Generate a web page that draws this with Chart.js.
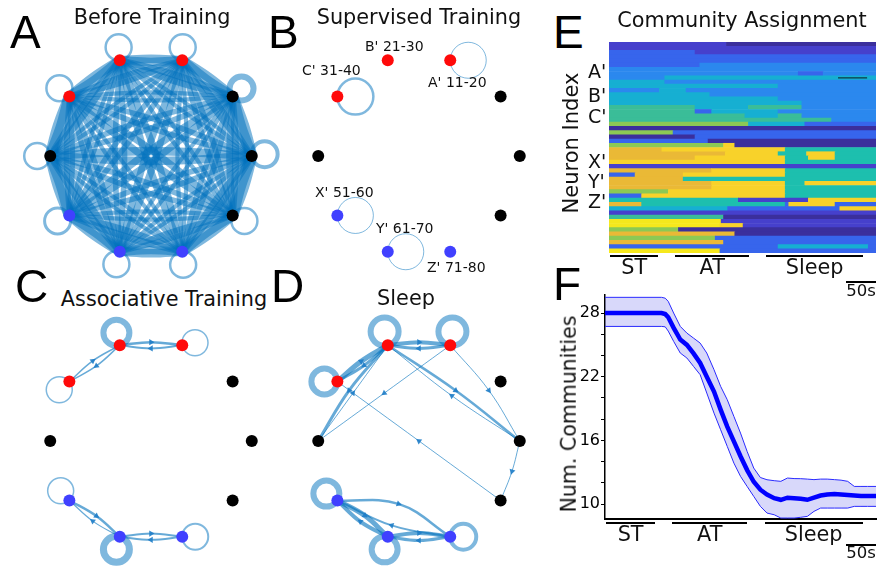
<!DOCTYPE html>
<html>
<head>
<meta charset="utf-8">
<script src="https://cdn.jsdelivr.net/npm/chart.js@4.4.1/dist/chart.umd.min.js"></script>
<style>
  body { margin: 0; background: #fff; }
  #fig { position: relative; width: 881px; height: 571px; overflow: hidden;
         font-family: "DejaVu Sans", sans-serif; color: #111; }
  #fig canvas { position: absolute; }
  .t { position: absolute; white-space: nowrap; line-height: 1; }
  .letter { font-family: "Liberation Sans", Arial, sans-serif; font-size: 46px; color: #000; }
  .title { font-size: 20.8px; transform: translateX(-50%); }
  .tag { font-size: 14px; }
  .row { font-size: 19px; }
  .ylab { transform: translate(-50%, -50%) rotate(-90deg); }
  .phase { font-size: 20.8px; transform: translateX(-50%); }
  .sb { font-size: 16.5px; transform: translateX(-50%); }
  .bar { position: absolute; height: 2px; background: #000; }
</style>
</head>
<body>
<div id="fig">
  <canvas id="netA" width="260" height="260" style="left:21px;top:26px"></canvas>
  <canvas id="netB" width="260" height="260" style="left:289px;top:26px"></canvas>
  <canvas id="netC" width="260" height="260" style="left:21px;top:311px"></canvas>
  <canvas id="netD" width="260" height="260" style="left:289px;top:311px"></canvas>
  <canvas id="heat" width="267" height="211" style="left:609px;top:42px"></canvas>
  <canvas id="comm" width="321" height="236" style="left:560px;top:289px"></canvas>

  <div class="t letter" style="left:10px;top:9px">A</div>
  <div class="t letter" style="left:268px;top:9px">B</div>
  <div class="t letter" style="left:15px;top:263px">C</div>
  <div class="t letter" style="left:271px;top:263px">D</div>
  <div class="t letter" style="left:553px;top:9px">E</div>
  <div class="t letter" style="left:553px;top:261px">F</div>

  <div class="t title" style="left:152px;top:7px">Before Training</div>
  <div class="t title" style="left:419px;top:7px">Supervised Training</div>
  <div class="t title" style="left:742px;top:10px">Community Assignment</div>
  <div class="t title" style="left:164px;top:289px">Associative Training</div>
  <div class="t title" style="left:406px;top:288px">Sleep</div>

  <div class="t tag" style="left:365px;top:39px">B' 21-30</div>
  <div class="t tag" style="left:428px;top:75px">A' 11-20</div>
  <div class="t tag" style="left:302px;top:63px">C' 31-40</div>
  <div class="t tag" style="left:315px;top:185px">X' 51-60</div>
  <div class="t tag" style="left:376px;top:221px">Y' 61-70</div>
  <div class="t tag" style="left:427px;top:260px">Z' 71-80</div>

  <div class="t row" style="left:588px;top:62px">A'</div>
  <div class="t row" style="left:588px;top:86px">B'</div>
  <div class="t row" style="left:588px;top:107px">C'</div>
  <div class="t row" style="left:588px;top:152px">X'</div>
  <div class="t row" style="left:588px;top:172px">Y'</div>
  <div class="t row" style="left:588px;top:192px">Z'</div>

  <div class="t ylab" style="left:571px;top:143px;font-size:21px">Neuron Index</div>
  <div class="t ylab" style="left:569px;top:414px;font-size:20.5px">Num. Communities</div>
</div>

<script>
// ---- network panels (A-D) ----
const nodeX = [1.00, 0.81, 0.31, -0.31, -0.81, -1.00, -0.81, -0.31, 0.31, 0.81];
const nodeY = [0.00, 0.59, 0.95, 0.95, 0.59, 0.00, -0.59, -0.95, -0.95, -0.59];
const nodeKind = ["k", "k", "r", "r", "r", "k", "b", "b", "b", "k"];

// every pair in the untrained net: [from, to, width]
const edgesA = [
    [0, 1, 8], [0, 2, 4], [0, 3, 3], [0, 4, 4], [0, 5, 6], [0, 6, 4], [0, 7, 3], [0, 8, 5], [0, 9, 8],
    [1, 2, 7], [1, 3, 5], [1, 4, 3], [1, 5, 4], [1, 6, 5], [1, 7, 3], [1, 8, 4], [1, 9, 5],
    [2, 3, 6], [2, 4, 4], [2, 5, 3], [2, 6, 4], [2, 7, 5], [2, 8, 3], [2, 9, 4],
    [3, 4, 7], [3, 5, 5], [3, 6, 3], [3, 7, 4], [3, 8, 5], [3, 9, 3],
    [4, 5, 8], [4, 6, 4], [4, 7, 4], [4, 8, 3], [4, 9, 5],
    [5, 6, 8], [5, 7, 5], [5, 8, 3], [5, 9, 4],
    [6, 7, 7], [6, 8, 5], [6, 9, 3],
    [7, 8, 6], [7, 9, 4],
    [8, 9, 7],
];
// directed edges: [from, to, width, bend]
const edgesC = [
    [3, 2, 2.5, 0.05], [2, 3, 2, 0.05], [4, 3, 1.5, 0.05], [3, 4, 1.5, 0.05],
    [6, 7, 2.5, 0.05], [7, 6, 1.2, 0.05], [7, 8, 2, 0.05], [8, 7, 2, 0.05],
];
const edgesD = [
    [3, 2, 4, 0.05], [2, 3, 3, 0.05], [4, 3, 5, 0.04], [3, 4, 3, 0.04],
    [3, 5, 3, -0.04], [5, 3, 1, 0], [2, 5, 1, 0],
    [3, 0, 2.5, 0.02], [0, 3, 1, 0.02], [2, 0, 1, 0.04],
    [9, 4, 1, 0], [0, 9, 1, 0.03],
    [6, 7, 5, 0.06], [7, 6, 4, 0.06], [6, 8, 2.5, 0.13], [8, 6, 2, 0.06],
    [7, 8, 4, 0.06], [8, 7, 3, 0.06],
];
// self loops: [node, direction (deg), radius, width]
const loopsA = [
    [0, 8, 13, 4], [1, 42, 12, 6], [2, 88, 13, 2.5], [3, 95, 13, 2.5], [4, 140, 13, 2.5],
    [5, 180, 13, 2.5], [6, 205, 13, 3], [7, 255, 13, 2.5], [8, 274, 13, 2.5], [9, 335, 13, 2.5],
];
const loopsB = [[2, 0, 18, 1], [4, 0, 18, 2.5], [6, 0, 18, 1], [7, 0, 18, 1]];
const loopsC = [[3, 105, 13, 6], [2, 11, 13, 1.5], [4, 219, 13, 1.5], [6, 132, 13, 1.5], [7, 255, 13, 7], [8, 0, 13, 2]];
const loopsD = [[3, 103, 14, 6], [2, 81, 14, 6], [4, 180, 13, 6], [6, 148, 13, 6], [7, 256, 13, 6], [8, 0, 13, 4]];

// ---- community assignment heat map (E), 50 bands of 2 neurons ----
// each band: "<colour><start s>" segments
const heatRows = [
    "p0 d198", "p0", "b0 p145", "b0", "b0", "b0 a153", "a0", "a0 b319 a361", "a0 c94", "c0 a94",
    "c0 a285", "a0 c85 a130", "c0 a170", "c0 a285", "c0 a325", "g0 c145 g235 a325", "g0 b145 c173 a285",
    "g0 c229 g285 a325", "g0 a375", "l0 c235 b330", "d0", "l0 b108", "d0 b145", "b0 d167", "l0 y193 d212",
    "o0 y89 t297", "o0 y196 t285 y333 t381", "o0 y145 t297 y336 t381", "y0 t297", "p0", "o0 y173 t297",
    "b0 o44 y125 t297", "o0 t125", "o0 y173 t297 y330", "o0 y173 t297", "l0 y100 t297", "b0 y55 t297",
    "t0 p218 y336", "o0 t55 b297 y303 b381", "c0 b200 y389", "p0", "g0 d193", "Y0 p189", "Y0 y187 p226",
    "l0 d117", "o0 d212", "l0 b179", "o0 b193", "b0 c285 b437", "Y0 b187",
];
const heatMarker = [9, 386, 435];
const heatColors = {
    d: "#3b2f9c", p: "#4640cc", b: "#3765ec", a: "#2b88ee", c: "#16afd2", t: "#1dbfae",
    g: "#3abd98", l: "#8cc954", o: "#eab936", y: "#f8d22a", Y: "#f6e81c",
};

// ---- number of communities (F) ----
const tF = [0, 94, 100, 105, 114, 125, 136, 147, 158, 169, 181, 192, 203, 214, 225, 236, 247, 258, 269, 281,
    292, 303, 314, 325, 336, 347, 358, 369, 381, 392, 403, 414, 425, 436, 450];
const meanF = [28, 28, 27.9, 27.6, 26.6, 25.5, 25.0, 24.2, 23.3, 22.0, 20.6, 18.9, 17.3, 15.9, 14.5, 13.2, 12.1, 11.35, 10.9, 10.55,
    10.4, 10.6, 10.55, 10.5, 10.4, 10.6, 10.8, 10.9, 10.95, 10.9, 10.85, 10.8, 10.75, 10.75, 10.75];
const upperF = [29.48, 29.48, 29.4, 29.1, 28.0, 26.74, 26.11, 25.64, 25.17, 24.23, 22.66, 21.09, 19.83, 18.26, 16.69, 14.96, 13.39, 12.5, 12.29, 12.2,
    12.14, 12.45, 12.4, 12.39, 12.35, 12.3, 12.35, 12.35, 12.3, 12.25, 12.14, 11.66, 11.66, 11.66, 11.66];
const lowerF = [26.74, 26.74, 26.7, 26.3, 25.33, 24.23, 23.76, 22.97, 22.19, 20.46, 18.57, 17.0, 15.43, 13.86, 12.61, 11.66, 10.72, 9.78, 9.15, 8.99,
    8.68, 8.68, 8.68, 8.75, 8.84, 9.31, 9.62, 9.62, 9.62, 9.62, 9.62, 9.78, 9.78, 9.78, 9.78];
const yTicksF = [10, 16, 22, 28];

const phaseNames = ["ST", "AT", "Sleep"];
const phaseStart = [2, 112, 265];
const phaseEnd = [83, 236, 428];
const scaleBar = [400, 450];

// ---- drawing ----
const nodeColors = { r: "#ff0a0a", b: "#4040ff", k: "#000000" };
const EDGE = "rgba(0,114,189,0.6)";
const EDGE_A = "rgba(0,114,189,0.5)";
const LOOP = "rgba(0,114,189,0.5)";
const ARROW = "rgba(30,125,200,0.9)";
const PX = 260 / 2.58;
const fig = document.getElementById("fig");

const netOptions = {
    responsive: false,
    animation: false,
    events: [],
    layout: { padding: 0, autoPadding: false },
    plugins: { legend: { display: false }, tooltip: { enabled: false } },
    scales: {
        x: { type: "linear", min: -1.29, max: 1.29, display: false },
        y: { type: "linear", min: -1.29, max: 1.29, display: false },
    },
};

function drawNetwork(id, loops, edges, edgeColor, arrows) {
    const pts = nodeX.map((x, i) => ({ x: x, y: nodeY[i] }));
    const datasets = [{
        data: pts,
        pointRadius: 6,
        pointBackgroundColor: nodeKind.map((k) => nodeColors[k]),
        pointBorderWidth: 0,
        order: 0,
        clip: false,
    }];
    const loopPts = loops.map((l) => ({
        x: nodeX[l[0]] + (l[2] / PX) * Math.cos((l[1] * Math.PI) / 180),
        y: nodeY[l[0]] + (l[2] / PX) * Math.sin((l[1] * Math.PI) / 180),
    }));
    datasets.push({
        data: loopPts,
        pointRadius: loops.map((l) => l[2]),
        pointBorderWidth: loops.map((l) => l[3]),
        pointBackgroundColor: "rgba(0,0,0,0)",
        pointBorderColor: LOOP,
        order: 1,
        clip: false,
    });
    const heads = [];
    edges.forEach((e) => {
        const a = pts[e[0]];
        const b = pts[e[1]];
        const dx = b.x - a.x;
        const dy = b.y - a.y;
        const mid = { x: (a.x + b.x) / 2 - dy * e[3], y: (a.y + b.y) / 2 + dx * e[3] };
        datasets.push({
            data: [a, mid, b],
            showLine: true,
            borderColor: edgeColor,
            borderWidth: e[2],
            tension: 0.4,
            pointRadius: 0,
            order: 2,
            clip: false,
        });
        heads.push({ x: mid.x, y: mid.y, rot: (Math.atan2(dx, dy) * 180) / Math.PI });
    });
    if (arrows) {
        datasets.push({
            data: heads,
            pointStyle: "triangle",
            pointRadius: 3.5,
            pointRotation: heads.map((h) => h.rot),
            pointBackgroundColor: ARROW,
            pointBorderWidth: 0,
            order: 1,
            clip: false,
        });
    }
    return new Chart(document.getElementById(id), {
        type: "scatter",
        data: { datasets: datasets },
        options: netOptions,
    });
}

// A draws every pair both ways, bent apart
const pairsA = [];
edgesA.forEach((e) => {
    pairsA.push([e[0], e[1], e[2] * 1.4, 0.025]);
    pairsA.push([e[1], e[0], e[2] * 1.4, 0.025]);
});
drawNetwork("netA", loopsA, pairsA, EDGE_A, false);
drawNetwork("netB", loopsB, [], EDGE, false);
drawNetwork("netC", loopsC, edgesC, EDGE, true);
drawNetwork("netD", loopsD, edgesD, EDGE, true);

// heat map as floating horizontal bars
const rowLabels = heatRows.map((r, i) => "n" + (i + 1));
const segs = [];
const segColors = [];
heatRows.forEach((row, i) => {
    const parts = row.split(" ").map((s) => [s[0], parseFloat(s.slice(1))]);
    parts.forEach((p, j) => {
        const end = j + 1 < parts.length ? parts[j + 1][1] : 450;
        segs.push({ x: [p[1], end], y: rowLabels[i] });
        segColors.push(heatColors[p[0]]);
    });
});
const heatChart = new Chart(document.getElementById("heat"), {
    type: "bar",
    data: {
        labels: rowLabels,
        datasets: [
            {
                data: [{ x: [heatMarker[1], heatMarker[2]], y: rowLabels[heatMarker[0] - 1] }],
                backgroundColor: "#0f3a45",
                barPercentage: 0.3,
                categoryPercentage: 1,
                grouped: false,
                order: 0,
            },
            {
                data: segs,
                backgroundColor: segColors,
                barPercentage: 1,
                categoryPercentage: 1,
                grouped: false,
                borderWidth: 0,
                order: 1,
            },
        ],
    },
    options: {
        indexAxis: "y",
        responsive: false,
        animation: false,
        events: [],
        layout: { padding: 0, autoPadding: false },
        plugins: { legend: { display: false }, tooltip: { enabled: false } },
        scales: {
            x: { type: "linear", min: 0, max: 450, display: false },
            y: { type: "category", display: false },
        },
    },
});

// number of communities
const commChart = new Chart(document.getElementById("comm"), {
    type: "line",
    data: {
        datasets: [
            {
                data: tF.map((t, i) => ({ x: t, y: meanF[i] })),
                borderColor: "#0000ff",
                borderWidth: 4.5,
                pointRadius: 0,
                fill: false,
                order: 0,
            },
            {
                data: tF.map((t, i) => ({ x: t, y: upperF[i] })),
                borderColor: "#2a2aff",
                borderWidth: 1,
                pointRadius: 0,
                fill: "+1",
                backgroundColor: "rgba(40,40,230,0.18)",
                order: 1,
            },
            {
                data: tF.map((t, i) => ({ x: t, y: lowerF[i] })),
                borderColor: "#2a2aff",
                borderWidth: 1,
                pointRadius: 0,
                fill: false,
                order: 2,
            },
        ],
    },
    options: {
        responsive: false,
        animation: false,
        events: [],
        layout: { padding: { top: 6, right: 5, bottom: 6, left: 0 }, autoPadding: false },
        plugins: { legend: { display: false }, tooltip: { enabled: false } },
        scales: {
            x: {
                type: "linear",
                min: 0,
                max: 450,
                grid: { display: false },
                ticks: { display: false },
                border: { display: true, color: "#000", width: 2 },
                afterFit: (s) => { s.height = 0; },
            },
            y: {
                min: 8.59,
                max: 29.7,
                ticks: {
                    stepSize: 2,
                    includeBounds: false,
                    padding: 1,
                    color: "#000",
                    font: { family: "DejaVu Sans", size: 16, lineHeight: 0.6 },
                    callback: (v) => (yTicksF.includes(Math.round(v)) ? Math.round(v) : ""),
                },
                grid: { drawOnChartArea: false, drawTicks: true, tickLength: 4, color: "#000" },
                border: { display: true, color: "#000", width: 1.5 },
                afterFit: (s) => { s.width = 45; },
            },
        },
    },
});

function addText(text, x, y, cls) {
    const el = document.createElement("div");
    el.className = "t " + cls;
    el.textContent = text;
    el.style.left = x + "px";
    el.style.top = y + "px";
    fig.appendChild(el);
}

function addBar(x, y, w) {
    const el = document.createElement("div");
    el.className = "bar";
    el.style.left = x + "px";
    el.style.top = y + "px";
    el.style.width = w + "px";
    fig.appendChild(el);
}

// phase bars and 50 s scale bar under E and F
function placePhases(chart, left, barY, labelY, sbY, sbTextY) {
    const xs = chart.scales.x;
    const px = (v) => left + xs.getPixelForValue(v);
    phaseNames.forEach((name, i) => {
        const a = px(phaseStart[i]);
        const b = px(phaseEnd[i]);
        addBar(a, barY, b - a);
        addText(name, (a + b) / 2, labelY, "phase");
    });
    const s0 = px(scaleBar[0]);
    const s1 = px(scaleBar[1]);
    addBar(s0, sbY, s1 - s0);
    addText("50s", (s0 + s1) / 2, sbTextY, "sb");
}

placePhases(heatChart, 609, 255, 257, 281, 283);
placePhases(commChart, 560, 522, 524, 544, 545);
</script>
</body>
</html>
